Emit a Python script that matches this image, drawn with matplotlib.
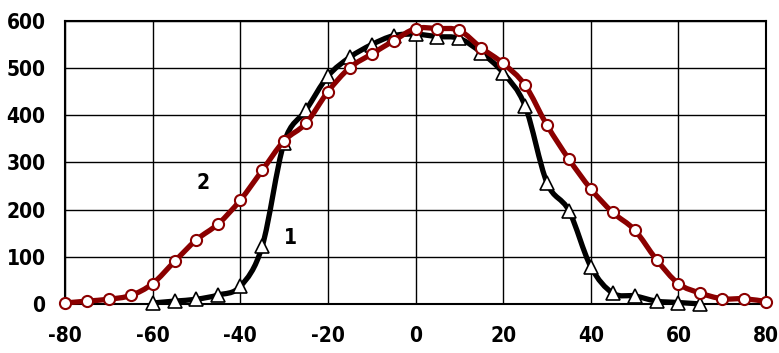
import numpy as np
import matplotlib.pyplot as plt
from matplotlib.path import Path
from matplotlib.patches import PathPatch

# curve 2 (red, circles)
x2 = [-80, -75, -70, -65, -60, -55, -50, -45, -40, -35, -30, -25, -20, -15, -10, -5,
      0, 5, 10, 15, 20, 25, 30, 35, 40, 45, 50, 55, 60, 65, 70, 75, 80]
y2 = [2, 6, 10, 18, 43, 90, 136, 170, 220, 283, 346, 383, 450, 501, 530, 558,
      584, 584, 580, 543, 510, 464, 379, 307, 244, 194, 157, 94, 43, 23, 11, 11, 5]

# curve 1 (black, triangles)
x1 = [-60, -55, -50, -45, -40, -35, -30, -25, -20, -15, -10, -5,
      0, 5, 10, 15, 20, 25, 30, 35, 40, 45, 50, 55, 60, 65]
y1 = [2, 6, 10, 19, 37, 122, 342, 411, 483, 523, 550, 569,
      572, 567, 563, 533, 490, 420, 257, 198, 79, 23, 17, 6, 3, 0]

xticks = [-80, -60, -40, -20, 0, 20, 40, 60, 80]
yticks = [0, 100, 200, 300, 400, 500, 600]

plt.rcParams['font.family'] = ['DejaVu Sans']
plt.rcParams['font.stretch'] = 'condensed'
plt.rcParams['font.weight'] = 'bold'
plt.rcParams['axes.unicode_minus'] = False


def smooth_path(xs, ys):
    # excel style smoothed line: catmull-rom segments as cubic beziers
    p = np.column_stack([xs, ys]).astype(float)
    verts = [p[0]]
    codes = [Path.MOVETO]
    n = len(p)
    for i in range(n - 1):
        p0 = p[i - 1] if i > 0 else p[i]
        p3 = p[i + 2] if i + 2 < n else p[i + 1]
        c1 = p[i] + (p[i + 1] - p0) / 6
        c2 = p[i + 1] - (p3 - p[i]) / 6
        verts += [c1, c2, p[i + 1]]
        codes += [Path.CURVE4] * 3
    return Path(verts, codes)


fig = plt.figure(figsize=(7.79, 3.53), dpi=100)
ax = fig.add_axes([0.0834, 0.139, 0.9, 0.8015])

ax.set_xlim(-80, 80)
ax.set_ylim(0, 600)
ax.set_xticks(xticks)
ax.set_yticks(yticks)
ax.grid(True, color='black', linewidth=1.0)
ax.set_axisbelow(True)
ax.tick_params(length=0, labelsize=15)
ax.tick_params(axis='y', pad=14)
ax.tick_params(axis='x', pad=16)
for s in ax.spines.values():
    s.set_linewidth(1.5)
    s.set_color('black')

ax.add_patch(PathPatch(smooth_path(x1, y1), facecolor='none', edgecolor='black',
                       linewidth=3.8, zorder=3, clip_on=False))
ax.plot(x1, y1, linestyle='none', marker='^', markersize=10, markerfacecolor='white',
        markeredgecolor='black', markeredgewidth=1.2, zorder=4, clip_on=False)

ax.add_patch(PathPatch(smooth_path(x2, y2), facecolor='none', edgecolor='#8b0000',
                       linewidth=3.8, zorder=5, clip_on=False))
ax.plot(x2, y2, linestyle='none', marker='o', markersize=8, markerfacecolor='white',
        markeredgecolor='#8b0000', markeredgewidth=1.5, zorder=6, clip_on=False)

ax.text(-48.5, 256, '2', fontsize=15, fontweight='bold', ha='center', va='center')
ax.text(-28.6, 140, '1', fontsize=15, fontweight='bold', ha='center', va='center')

fig.savefig('out.png', dpi=100)
